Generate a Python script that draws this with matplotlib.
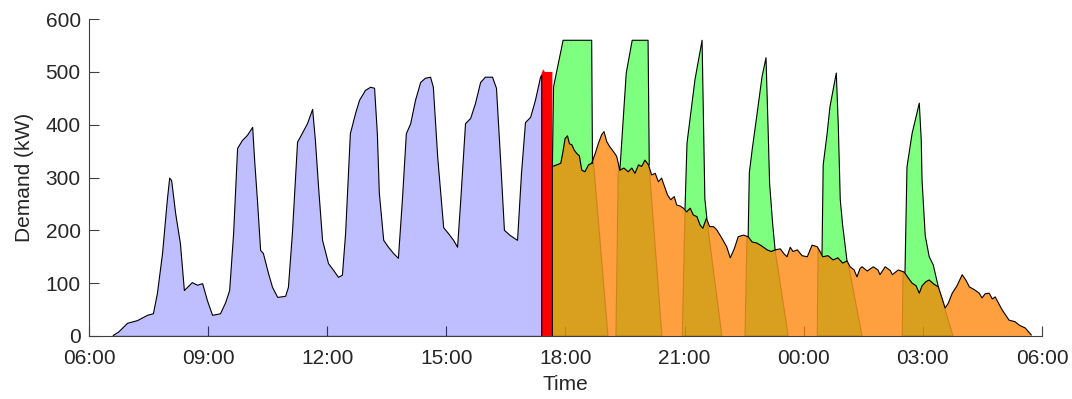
import numpy as np
import matplotlib
matplotlib.use('Agg')
import matplotlib.pyplot as plt

plt.rcParams['font.family'] = ['Liberation Sans', 'DejaVu Sans']

# time axis in hours since midnight (next day continues past 24)
x_ticks  = [6, 9, 12, 15, 18, 21, 24, 27, 30]
x_labels = ['06:00', '09:00', '12:00', '15:00', '18:00', '21:00', '00:00', '03:00', '06:00']
y_ticks  = [0, 100, 200, 300, 400, 500, 600]

# daytime demand (blue)
blue_t = [6.60, 6.73, 6.96, 7.21, 7.46, 7.61, 7.71, 7.84, 7.96, 8.02, 8.07, 8.17, 8.29,
          8.39, 8.59, 8.72, 8.85, 8.97, 9.10, 9.30, 9.43, 9.53, 9.63, 9.73, 9.85, 9.98,
          10.11, 10.16, 10.23, 10.31, 10.38, 10.51, 10.61, 10.74, 10.94, 11.01, 11.11,
          11.24, 11.37, 11.49, 11.62, 11.69, 11.77, 11.87, 12.02, 12.15, 12.27, 12.37,
          12.45, 12.57, 12.70, 12.80, 12.95, 13.08, 13.18, 13.25, 13.30, 13.41, 13.53,
          13.66, 13.78, 13.88, 13.98, 14.09, 14.21, 14.34, 14.46, 14.59, 14.66, 14.77,
          14.92, 15.04, 15.17, 15.27, 15.35, 15.47, 15.60, 15.72, 15.85, 15.97, 16.15,
          16.25, 16.35, 16.45, 16.60, 16.78, 16.88, 16.98, 17.11, 17.23, 17.36, 17.39]
blue_v = [2, 8, 25, 30, 40, 43, 81, 157, 258, 300, 295, 233, 176,
          87, 102, 97, 100, 68, 40, 43, 64, 87, 195, 356, 371, 381,
          396, 333, 258, 163, 157, 119, 93, 74, 76, 93, 195,
          368, 386, 403, 430, 371, 282, 182, 138, 125, 112, 116,
          195, 384, 422, 447, 466, 472, 470, 384, 271, 182, 169,
          157, 148, 258, 384, 403, 447, 481, 489, 491, 472, 339,
          206, 195, 182, 169, 258, 403, 413, 441, 481, 491, 491,
          470, 339, 201, 191, 182, 309, 405, 415, 447, 491, 495]

# red block
red_t = [17.40, 17.44, 17.48, 17.67]
red_v = [498, 505, 500, 500]

# overnight base demand (orange)
orange_t = [17.67, 17.78, 17.88, 17.93, 17.99, 18.05, 18.10, 18.16, 18.22, 18.28, 18.35,
            18.41, 18.49, 18.58, 18.66, 18.75, 18.83, 18.91, 18.97, 19.04, 19.11, 19.21,
            19.29, 19.37, 19.47, 19.58, 19.67, 19.75, 19.84, 19.92, 20.00, 20.09, 20.17,
            20.26, 20.34, 20.42, 20.51, 20.57, 20.65, 20.74, 20.80, 20.89, 20.97, 21.05,
            21.14, 21.22, 21.31, 21.39, 21.46, 21.55, 21.63, 21.73, 21.81, 21.94, 22.06,
            22.15, 22.25, 22.35, 22.48, 22.60, 22.70,
            22.82, 22.95, 23.08, 23.18, 23.28, 23.41, 23.51, 23.58, 23.66, 23.73, 23.84,
            23.96, 24.09, 24.21, 24.34, 24.41, 24.48, 24.61, 24.74, 24.86, 24.98, 25.09,
            25.17, 25.27, 25.34, 25.42, 25.47, 25.60, 25.75, 25.87, 25.92, 26.05, 26.18,
            26.23, 26.38, 26.53, 26.63, 26.73, 26.83, 26.91, 26.98, 27.08, 27.16, 27.28,
            27.39, 27.49, 27.56, 27.64, 27.74, 27.86, 27.99, 28.09, 28.17, 28.29, 28.42,
            28.49, 28.57, 28.67, 28.75, 28.82, 28.92, 29.00, 29.10, 29.17, 29.27, 29.32,
            29.44, 29.58, 29.73]
orange_v = [321, 324, 327, 346, 374, 379, 364, 362, 352, 346, 341,
            314, 311, 324, 327, 346, 365, 381, 387, 368, 359, 349,
            340, 314, 318, 311, 318, 308, 324, 321, 333, 324, 305,
            308, 292, 299, 280, 267, 258, 264, 248, 246, 242, 235,
            242, 229, 226, 210, 204, 223, 207, 207, 201, 185, 169,
            148, 165, 188, 191, 188, 178,
            176, 170, 163, 160, 163, 165, 155, 150, 168, 160, 163,
            152, 150, 172, 169, 160, 150, 152, 144, 148, 138, 142,
            131, 125, 112, 128, 131, 123, 131, 125, 116, 131, 124,
            116, 125, 121, 110, 100, 95, 81, 95, 103, 106, 98,
            93, 70, 53, 62, 81, 95, 116, 105, 93, 88, 81,
            72, 80, 81, 70, 74, 60, 49, 38, 30, 28, 27,
            20, 15, 2]

# darker bands inside the orange area: left top, left bottom, right top, right bottom
band_lt = [17.67, 19.33, 21.01, 22.57, 24.36, 26.50]
band_lb = [17.67, 19.27, 20.94, 22.52, 24.34, 26.48]
band_rt = [18.70, 20.11, 21.56, 23.28, 25.12, 27.39]
band_rb = [19.07, 20.43, 21.94, 23.61, 25.47, 27.76]

# green peaks on top of the orange demand
peak1_t = [17.67, 17.70, 17.94, 18.66, 18.68]
peak1_v = [321, 472, 560, 560, 327]
peak2_t = [19.37, 19.53, 19.68, 20.08, 20.11]
peak2_v = [314, 498, 560, 560, 324]
peak3_t = [21.01, 21.06, 21.26, 21.44, 21.51, 21.56]
peak3_v = [240, 365, 485, 560, 260, 223]
peak4_t = [22.60, 22.63, 22.70, 22.78, 22.95, 23.05, 23.10, 23.14, 23.22, 23.28]
peak4_v = [188, 309, 352, 396, 491, 527, 400, 290, 210, 163]
peak5_t = [24.46, 24.49, 24.59, 24.66, 24.82, 24.87, 24.92, 24.98, 25.09]
peak5_v = [155, 324, 384, 434, 498, 400, 258, 210, 142]
peak6_t = [26.55, 26.60, 26.73, 26.81, 26.91, 26.96, 26.98, 27.06, 27.16, 27.26, 27.39]
peak6_v = [121, 320, 384, 409, 441, 371, 295, 190, 150, 135, 93]
peaks = [(peak1_t, peak1_v), (peak2_t, peak2_v), (peak3_t, peak3_v),
         (peak4_t, peak4_v), (peak5_t, peak5_v), (peak6_t, peak6_v)]


fig = plt.figure(figsize=(10.72, 3.99), dpi=100)
ax  = fig.add_axes([0.083, 0.158, 0.889, 0.794])

ax.fill_between(red_t, 0, red_v, facecolor='red', edgecolor='none', zorder=1)
ax.fill_between(blue_t, 0, blue_v, facecolor=(0, 0, 1, 0.25), edgecolor='black', linewidth=0.8, zorder=1)

ot = np.array(orange_t)
ov = np.array(orange_v)
ax.fill_between(ot, 0, ov, facecolor=(1, 0.5, 0, 0.75), edgecolor='none', zorder=1)

for lt, lb, rt, rb in zip(band_lt, band_lb, band_rt, band_rb):
  m  = (ot > lt) & (ot < rt)
  xs = [lb, rb, rt] + list(ot[m][::-1]) + [lt]
  ys = [0, 0, np.interp(rt, ot, ov)] + list(ov[m][::-1]) + [np.interp(lt, ot, ov)]
  ax.fill(xs, ys, facecolor=(0.71, 0.63, 0, 0.5), edgecolor=(0.72, 0.42, 0.05, 0.55),
          linewidth=0.8, zorder=1.1)

for pt, pv in peaks:
  m     = (ot > pt[0]) & (ot < pt[-1])
  xs    = np.sort(np.concatenate([pt, ot[m]]))
  lower = np.interp(xs, ot, ov)
  upper = np.maximum(np.interp(xs, pt, pv), lower)
  ax.fill_between(xs, lower, upper, facecolor=(0, 1, 0, 0.5), edgecolor='none', zorder=1.2)
  ax.plot(pt, pv, color='black', linewidth=0.8, zorder=1.3)

# outline of the orange demand
ax.plot([ot[0]] + list(ot), [0] + list(ov), color='black', linewidth=0.8, zorder=1.3)

ax.set_xlim(6, 30)
ax.set_ylim(0, 600)
ax.set_xticks(x_ticks)
ax.set_xticklabels(x_labels)
ax.set_yticks(y_ticks)
ax.set_axisbelow(True)
ax.tick_params(direction='in', length=7, width=0.8, color='#404040', labelsize=15,
               labelcolor='#262626')
ax.tick_params(axis='x', pad=9.5)
ax.tick_params(axis='y', pad=6)
for s in ['top', 'right']:
  ax.spines[s].set_visible(False)
for s in ['left', 'bottom']:
  ax.spines[s].set_color('#404040')
  ax.spines[s].set_linewidth(0.8)
  ax.spines[s].set_zorder(3)

ax.set_xlabel('Time', fontsize=15, color='#262626', labelpad=5)
ax.set_ylabel('Demand (kW)', fontsize=15, color='#262626', labelpad=8)

fig.savefig('out.png', dpi=100)
